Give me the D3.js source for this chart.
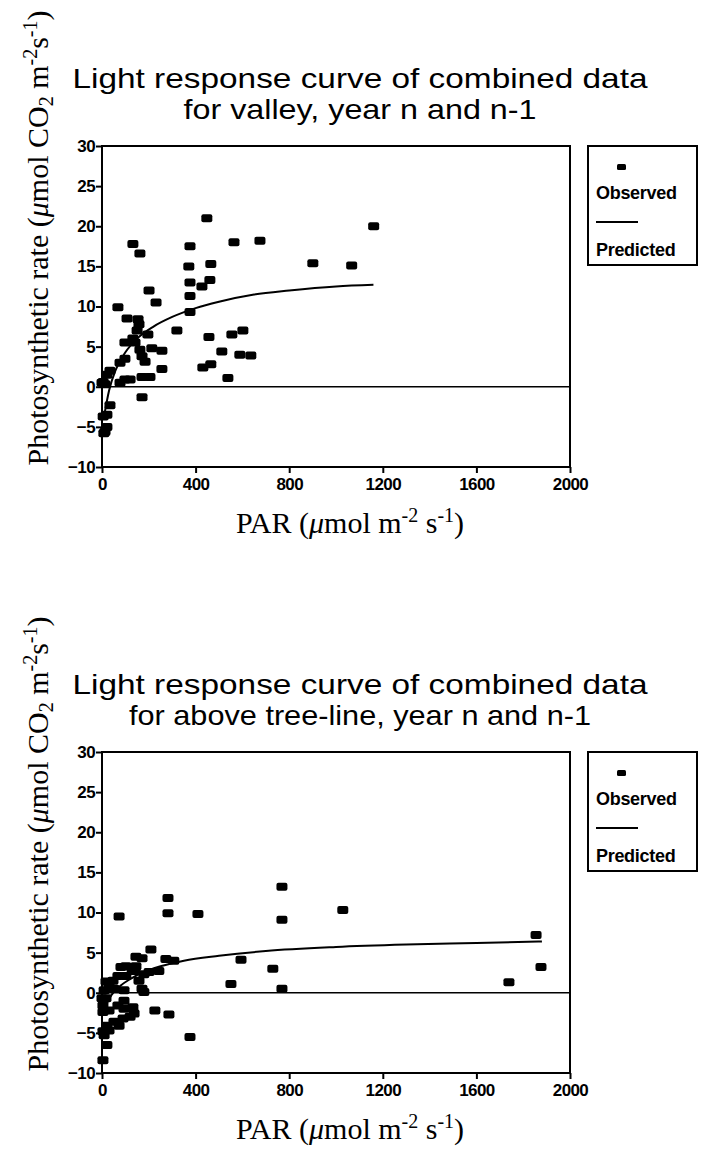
<!DOCTYPE html>
<html>
<head>
<meta charset="utf-8">
<script src="https://cdn.jsdelivr.net/npm/d3@7"></script>
<style>
  body { margin: 0; background: #fff; }
  svg { display: block; }
</style>
</head>
<body>
<script>
// tick values
const parTicks = [0, 400, 800, 1200, 1600, 2000];
const rateTicks = [-10, -5, 0, 5, 10, 15, 20, 25, 30];
const legendLabels = ["Observed", "Predicted"];

// valley, year n and n-1 : [PAR, rate]
const valleyObserved = [
  [132, 17.8], [162, 16.6], [448, 21], [376, 17.5], [564, 18], [675, 18.2], [901, 15.4],
  [1161, 20], [1067, 15.1], [371, 15], [465, 15.3], [376, 13], [427, 12.5], [461, 13.3],
  [376, 11.3], [376, 9.3], [201, 12], [231, 10.5], [68, 9.9], [107, 8.5], [154, 8.4],
  [158, 7.8], [150, 7], [196, 6.5], [320, 7], [457, 6.2], [555, 6.5], [602, 7],
  [213, 4.8], [256, 4.5], [98, 5.5], [132, 6], [141, 5.5], [162, 4.6], [171, 3.8],
  [184, 3.1], [98, 3.5], [77, 3], [512, 4.4], [589, 4], [636, 3.9], [431, 2.4],
  [465, 2.8], [538, 1.1], [256, 2.2], [171, 1.2], [205, 1.2], [120, 0.9], [98, 0.9],
  [77, 0.5], [34, 2], [21, 1.5], [5, 0.6], [13, 0.3], [171, -1.3], [34, -2.3],
  [21, -3.5], [5, -3.7], [21, -5], [13, -5.6], [8, -5.8], [0, 0.5]
];
const valleyPredicted = [
  [10, -3.5], [30, -0.5], [60, 2.2], [100, 4.3], [150, 6.0], [220, 7.5], [300, 8.7],
  [400, 9.8], [500, 10.6], [650, 11.5], [800, 12.0], [1000, 12.5], [1160, 12.7]
];

// above tree-line, year n and n-1 : [PAR, rate]
const treelineObserved = [
  [73, 9.5], [282, 11.8], [282, 9.9], [410, 9.8], [769, 13.2], [769, 9.1], [1029, 10.3],
  [1855, 7.2], [1876, 3.2], [1739, 1.3], [209, 5.4], [145, 4.5], [273, 4.2], [307, 4.0],
  [594, 4.1], [730, 3.0], [551, 1.1], [769, 0.5], [226, -2.2], [286, -2.7], [376, -5.5],
  [21, -6.5], [4, -8.4], [81, 3.2], [102, 3.3], [128, 3.0], [145, 3.3], [141, 2.7],
  [179, 2.3], [201, 2.6], [243, 2.7], [158, 1.5], [171, 0.5], [179, 0.1], [47, 1.5],
  [30, 0.9], [9, 0.3], [0, -0.7], [17, -0.7], [4, -1.6], [30, -2.2], [4, -2.4],
  [68, -1.6], [94, -2.0], [132, -1.8], [137, -2.6], [120, -3.0], [90, -3.2], [51, -3.6],
  [21, -4.1], [73, -4.1], [4, -4.8], [30, -4.7], [9, -5.3], [102, 2.1], [68, 2.1],
  [17, 1.4], [51, 0.5], [94, 0.3], [94, -1.0], [171, 4.3]
];
const treelinePredicted = [
  [10, -2], [40, -0.3], [80, 0.9], [120, 1.7], [180, 2.6], [250, 3.3], [350, 4.0],
  [500, 4.6], [700, 5.2], [1000, 5.7], [1300, 6.0], [1600, 6.2], [1880, 6.4]
];

const width = 705;
const height = 1157;

const svg = d3.select("body").append("svg")
  .attr("width", width)
  .attr("height", height);

function drawChart(top, titleLines, titleWidths, observed, predicted) {
  const g = svg.append("g").attr("transform", `translate(0,${top})`);

  const x = d3.scaleLinear().domain([0, 2000]).range([102, 570]);
  const y = d3.scaleLinear().domain([-10, 30]).range([467, 146]);

  // titles (stretched a little to the width of the original lettering)
  g.selectAll(".title")
    .data(titleLines)
    .enter().append("text")
    .attr("x", 360)
    .attr("y", (d, i) => 88 + i * 31)
    .attr("text-anchor", "middle")
    .attr("textLength", (d, i) => titleWidths[i])
    .attr("lengthAdjust", "spacingAndGlyphs")
    .style("font-family", "'Liberation Sans', Arial, sans-serif")
    .style("font-size", "28px")
    .text(d => d);

  const tickStyle = a => a.selectAll("text")
    .style("font-family", "'Liberation Sans', Arial, sans-serif")
    .style("font-weight", "bold")
    .style("font-size", "17px")
    .style("letter-spacing", "-0.6px");

  // axes
  g.append("g")
    .attr("transform", "translate(0,467)")
    .call(d3.axisBottom(x).tickValues(parTicks).tickFormat(d3.format("d"))
      .tickSize(6).tickPadding(5))
    .call(a => a.select(".domain").remove())
    .call(a => a.selectAll("line").attr("stroke-width", 2))
    .call(tickStyle);

  g.append("g")
    .attr("transform", "translate(102,0)")
    .call(d3.axisLeft(y).tickValues(rateTicks).tickFormat(d3.format("d"))
      .tickSize(6).tickPadding(1))
    .call(a => a.select(".domain").remove())
    .call(a => a.selectAll("line").attr("stroke-width", 2))
    .call(tickStyle);

  // plot frame
  g.append("rect")
    .attr("x", x(0)).attr("y", y(30))
    .attr("width", x(2000) - x(0))
    .attr("height", y(-10) - y(30))
    .attr("fill", "none")
    .attr("stroke", "#000")
    .attr("stroke-width", 2);

  // zero line
  g.append("line")
    .attr("x1", x(0)).attr("x2", x(2000))
    .attr("y1", y(0)).attr("y2", y(0))
    .attr("stroke", "#000")
    .attr("stroke-width", 1.6);

  // predicted curve
  const line = d3.line()
    .x(d => x(d[0]))
    .y(d => y(d[1]))
    .curve(d3.curveMonotoneX);

  g.append("path")
    .datum(predicted)
    .attr("d", line)
    .attr("fill", "none")
    .attr("stroke", "#000")
    .attr("stroke-width", 2);

  // observed points
  g.selectAll(".pt")
    .data(observed)
    .enter().append("rect")
    .attr("class", "pt")
    .attr("x", d => x(d[0]) - 5.5)
    .attr("y", d => y(d[1]) - 4)
    .attr("width", 11)
    .attr("height", 8)
    .attr("rx", 2)
    .attr("fill", "#000");

  // y label
  const yl = g.append("text")
    .attr("transform", "translate(48,238) rotate(-90)")
    .attr("text-anchor", "middle")
    .style("font-family", "'Liberation Serif', 'Times New Roman', serif")
    .style("font-size", "30px");
  yl.append("tspan").text("Photosynthetic rate (");
  yl.append("tspan").style("font-style", "italic").text("\u03bc");
  yl.append("tspan").text("mol CO");
  yl.append("tspan").attr("baseline-shift", "-25%").style("font-size", "20px").text("2");
  yl.append("tspan").text(" m");
  yl.append("tspan").attr("baseline-shift", "super").style("font-size", "20px").text("-2");
  yl.append("tspan").text("s");
  yl.append("tspan").attr("baseline-shift", "super").style("font-size", "20px").text("-1");
  yl.append("tspan").text(")");

  // x label
  const xl = g.append("text")
    .attr("x", 350).attr("y", 533)
    .attr("text-anchor", "middle")
    .style("font-family", "'Liberation Serif', 'Times New Roman', serif")
    .style("font-size", "30px");
  xl.append("tspan").text("PAR (");
  xl.append("tspan").style("font-style", "italic").text("\u03bc");
  xl.append("tspan").text("mol m");
  xl.append("tspan").attr("baseline-shift", "super").style("font-size", "20px").text("-2");
  xl.append("tspan").text(" s");
  xl.append("tspan").attr("baseline-shift", "super").style("font-size", "20px").text("-1");
  xl.append("tspan").text(")");

  // legend
  const lg = g.append("g");
  lg.append("rect")
    .attr("x", 588).attr("y", 146)
    .attr("width", 109).attr("height", 119)
    .attr("fill", "none")
    .attr("stroke", "#000")
    .attr("stroke-width", 2);
  lg.append("rect")
    .attr("x", 617).attr("y", 164)
    .attr("width", 9).attr("height", 6)
    .attr("rx", 1.5)
    .attr("fill", "#000");
  lg.append("line")
    .attr("x1", 596).attr("x2", 638)
    .attr("y1", 222).attr("y2", 222)
    .attr("stroke", "#000")
    .attr("stroke-width", 2);
  lg.selectAll(".lt")
    .data(legendLabels)
    .enter().append("text")
    .attr("x", 596)
    .attr("y", (d, i) => 199 + i * 57)
    .style("font-family", "'Liberation Sans', Arial, sans-serif")
    .style("font-weight", "bold")
    .style("font-size", "18px")
    .style("letter-spacing", "-0.3px")
    .text(d => d);
}

drawChart(0, ["Light response curve of combined data", "for valley, year n and n-1"],
  [575, 353], valleyObserved, valleyPredicted);
drawChart(606, ["Light response curve of combined data", "for above tree-line, year n and n-1"],
  [575, 462], treelineObserved, treelinePredicted);
</script>
</body>
</html>
